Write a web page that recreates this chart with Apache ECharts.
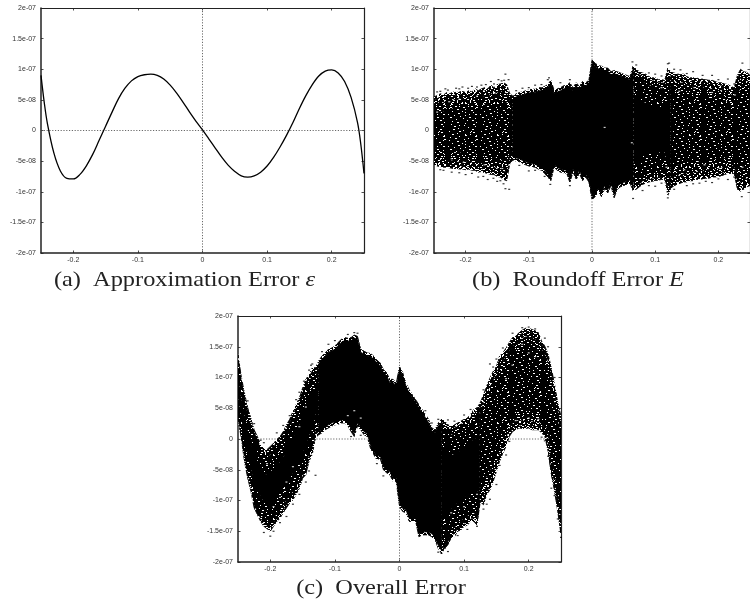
<!DOCTYPE html>
<html><head><meta charset="utf-8">
<style>html,body{margin:0;padding:0;background:#fff;overflow:hidden}#c{width:750px;height:605px;filter:blur(0.3px)}</style>
<script src="https://cdn.jsdelivr.net/npm/echarts@6/dist/echarts.min.js"></script>
</head><body><div id="c"></div>
<script>
// values on the y axis are in units of 1e-8
const xTicks=[-0.2,-0.1,0,0.1,0.2];
const xTickLabels=['-0.2','-0.1','0','0.1','0.2'];
const yTicks=[-20,-15,-10,-5,0,5,10,15,20];
const yTickLabels=['-2e-07','-1.5e-07','-1e-07','-5e-08','0','5e-08','1e-07','1.5e-07','2e-07'];
const captions=['(a)  Approximation Error ','(b)  Roundoff Error ','(c)  Overall Error'];

const approxX=[-0.25,-0.245,-0.24,-0.23,-0.22,-0.21,-0.20,-0.19,-0.18,-0.17,-0.16,-0.15,-0.14,-0.13,-0.12,-0.11,-0.10,-0.09,-0.08,-0.07,-0.06,-0.05,-0.04,-0.03,-0.02,-0.01,0,0.01,0.02,0.03,0.04,0.05,0.06,0.07,0.08,0.09,0.10,0.11,0.12,0.13,0.14,0.15,0.16,0.17,0.18,0.19,0.20,0.21,0.22,0.23,0.24,0.245,0.25];
const approxY=[9.0,4.6,1.1,-3.7,-6.6,-7.8,-7.9,-7.2,-5.8,-3.9,-1.6,0.7,3.0,5.2,6.9,8.1,8.8,9.1,9.2,9.0,8.4,7.4,6.1,4.6,3.0,1.5,0.1,-1.4,-2.9,-4.4,-5.7,-6.7,-7.4,-7.6,-7.4,-6.8,-5.8,-4.4,-2.7,-0.8,1.3,3.6,5.7,7.5,8.9,9.7,9.9,9.4,8.0,5.4,1.3,-2.2,-7];

// envelope columns, every 0.005 from -0.25 to 0.25
const cloudX=[-0.25,-0.245,-0.24,-0.235,-0.23,-0.225,-0.22,-0.215,-0.21,-0.205,-0.2,-0.195,-0.19,-0.185,-0.18,-0.175,-0.17,-0.165,-0.16,-0.155,-0.15,-0.145,-0.14,-0.135,-0.13,-0.125,-0.12,-0.115,-0.11,-0.105,-0.1,-0.095,-0.09,-0.085,-0.08,-0.075,-0.07,-0.065,-0.06,-0.055,-0.05,-0.045,-0.04,-0.035,-0.03,-0.025,-0.02,-0.015,-0.01,-0.005,0,0.005,0.01,0.015,0.02,0.025,0.03,0.035,0.04,0.045,0.05,0.055,0.06,0.065,0.07,0.075,0.08,0.085,0.09,0.095,0.1,0.105,0.11,0.115,0.12,0.125,0.13,0.135,0.14,0.145,0.15,0.155,0.16,0.165,0.17,0.175,0.18,0.185,0.19,0.195,0.2,0.205,0.21,0.215,0.22,0.225,0.23,0.235,0.24,0.245,0.25];
const roundHi=[5.5,5.7,6.0,5.8,6.2,6.0,6.3,6.2,6.3,6.4,6.2,6.5,6.3,6.8,6.5,6.8,7,6.8,7.4,7,7.5,7.6,7.8,7.5,6.0,5.6,6.0,6.2,6.3,6.5,6.6,6.8,6.7,7,7,7.2,7.5,8.2,6.6,6.8,7.0,7.3,7.4,7.8,7,7.8,7.2,8,7.8,8.2,11.5,11,10.6,10.5,10.2,10.2,9.6,9.8,9.6,9.4,9.2,9,8.8,10.5,10,9.6,9.4,9.2,8.8,8.6,8.6,8.3,8.3,8.2,10.2,9.5,9.4,9.2,9.2,9.2,8.8,8.6,8.6,8.6,8.4,8.4,8.3,8.2,8.2,8,7.8,7.8,7.6,7.5,7.2,7,9,10,9.6,9.5,9];
const roundLo=[-5.5,-5.8,-5.9,-6,-6,-6.1,-6.2,-6.2,-6.3,-6.3,-6.4,-6.3,-6.5,-6.5,-6.8,-6.7,-6.9,-7,-7.2,-7.2,-7.5,-7.6,-8,-8.2,-5.4,-4.8,-5.0,-5.1,-5.4,-5.6,-5.8,-5.9,-6,-6.3,-6.5,-7,-7.6,-8.2,-6,-6.5,-6.8,-6.9,-7,-8.5,-6.8,-8,-7,-8.2,-7.6,-8.4,-11.3,-10.8,-10,-10.8,-9.5,-10.2,-9,-11,-9.6,-9.2,-9,-8.8,-8.6,-9.8,-9.6,-9.2,-8.8,-8.6,-8.4,-8.3,-8.2,-8.1,-8,-8,-10.6,-9.4,-9,-8.8,-8.6,-8.4,-8.4,-8.2,-8.2,-8,-8,-7.9,-7.8,-7.8,-7.6,-7.6,-7.5,-7.4,-7.2,-7,-7,-7,-9.6,-9.9,-9.6,-9.2,-9];
const overHi=[13.7,10.2,7.5,5.1,3.4,1.5,.4,-.9,-1.5,-1.7,-1.2,-.7,-.1,.4,1.2,2.3,3.2,4.5,5.6,6.7,8.3,9.7,10.5,11.6,11.6,12.7,13.5,14,14.6,14.8,15.1,15.7,16.2,16.5,16.4,16.5,16.9,16.7,14.6,14.3,14,13.9,13.5,12.9,12.4,11.3,10.8,9.7,9.7,9.1,11.8,10.8,9.1,8,7.2,6.4,5.6,4.8,4,3.2,1.8,1.5,2.6,3.2,2.9,2.3,2.1,2.3,2.6,2.9,3.2,3.4,4,4.8,5.1,5.9,7.2,8.6,9.9,11,11.8,13.5,14,14.8,15.7,16.5,16.7,17.3,17.7,18,18,17.8,17.6,17.3,15.9,15.1,13.8,11.6,8.9,5.9,3.7];
const overLo=[3.2,.2,-3.6,-6.4,-8.5,-11.2,-12.3,-13.4,-14.2,-14.6,-15,-14.2,-13.4,-12.9,-12,-11.2,-10.4,-9.9,-9,-8,-6.4,-5.8,-3.6,-2.5,.2,.7,1,1.5,1.8,2.1,2.3,2.4,2.6,2.6,2.2,1.2,.4,2.1,1.5,.7,.4,-1.5,-2.5,-3.4,-3.1,-5,-5.5,-5.8,-6.9,-6.9,-11,-11.8,-12,-13.4,-13.4,-13.4,-15.9,-15.6,-15.6,-15.6,-15.9,-16.4,-17.8,-18.6,-17.8,-17.2,-16.1,-15.9,-15,-14.8,-14.2,-14,-13.4,-13.4,-14,-10.2,-10.7,-9,-8.3,-6.9,-5.3,-3.6,-2.3,-1.2,.4,1.2,1.5,1.8,1.7,1.7,1.8,1.5,1.5,1.5,1,.4,-2,-5.8,-8.5,-11.8,-15.6];

// stretches of the cloud and how densely inked they read: [from x, to x, density]
const roundStretches=[[-0.25,-0.125,'sparse'],[0.065,0.125,'medium'],[0.125,0.25,'sparse'],[-0.125,0.065,'solid']];
const overStretches=[[-0.25,-0.125,'medium'],[0.065,0.125,'medium'],[0.125,0.25,'sparse'],[-0.125,0.065,'solid']];

// stray dots outside the envelope [x, value]
const roundFringe=[[-0.24,6.4],[-0.232,6.8],[-0.215,6.9],[-0.205,7.1],[-0.19,7.2],[-0.175,7.4],[-0.16,8],[-0.148,8.3],[-0.139,8.2],[-0.137,9.2],[-0.132,8.3],[-0.24,-6.4],[-0.222,-6.8],[-0.2,-7.2],[-0.18,-7.6],[-0.165,-8],[-0.15,-8.3],[-0.14,-8.7],[-0.137,-9.5],[-0.131,-9.6],[-0.11,6.9],[-0.09,7.4],[-0.07,8.3],[-0.068,8.6],[-0.05,7.8],[-0.035,8.3],[-0.066,-8.8],[-0.035,-9],[-0.1,-6.6],[0.064,11.2],[0.07,10.7],[0.1,9.2],[0.122,11],[0.12,10.9],[0.14,9.9],[0.16,9.6],[0.19,9],[0.215,8.4],[0.238,11],[0.12,-11],[0.15,-9],[0.17,-8.6],[0.19,-8.5],[0.215,-8],[0.237,-10.8],[0.065,-11.1],[0.08,-9.8],[0.1,-9.1],[-0.245,6.3],[-0.228,6.6],[-0.21,6.8],[-0.196,6.9],[-0.182,7.1],[-0.168,7.5],[-0.155,7.6],[-0.143,8.1],[-0.235,-6.5],[-0.21,-6.9],[-0.19,-7],[-0.172,-7.5],[-0.156,-7.8],[-0.145,-8.2],[-0.12,6.5],[-0.1,7],[-0.08,7.5],[-0.115,-5.7],[-0.09,-6.5],[-0.075,-7.5],[0.09,9.4],[0.11,8.9],[0.13,10],[0.15,9.3],[0.175,9],[0.2,8.3],[0.225,7.6],[0.09,-9],[0.11,-8.6],[0.13,-9.6],[0.16,-8.7],[0.18,-8.3],[0.2,-7.9],[0.225,-7.6]];
const overFringe=[[-0.135,12.2],[-0.137,12],[-0.14,11.2],[-0.155,7.6],[-0.18,2.2],[-0.19,1],[-0.21,-.6],[-0.225,2.5],[-0.2,-15.8],[-0.21,-15.2],[-0.195,-15],[-0.175,-12.6],[-0.155,-9],[-0.145,-7],[-0.13,-5.9],[-0.14,-5.2],[-0.07,17.3],[-0.065,17.2],[-0.08,17],[-0.1,16],[-0.025,-6],[-0.035,-4],[-0.06,.6],[-0.075,.4],[0.065,-18.6],[0.06,-18.4],[0.075,-18.3],[0.07,-17.8],[0.06,3.2],[0.075,3.1],[0.05,2.6],[0.04,4.6],[0.12,-14.2],[0.135,-10.6],[0.14,-9.8],[0.15,-7.4],[0.165,-2.6],[0.19,18.1],[0.2,18.2],[0.21,17.9],[0.225,16.4],[0.23,15],[0.24,10],[0.22,.3],[0.245,-13],[0.25,-16],[0.235,-8],[0.14,12.2],[0.15,13],[-0.235,6.2],[-0.215,-0.2],[-0.17,3.8],[-0.16,6.4],[-0.148,9.4],[-0.165,-10.6],[-0.185,-13.6],[-0.12,14.2],[-0.11,15.4],[0.085,2.9],[0.1,3.9],[0.11,4.8],[0.13,8],[0.145,11.7],[0.16,14.8],[0.175,17.2],[0.09,-15.7],[0.105,-14.7],[0.13,-11.4],[0.155,-4.3],[0.17,-0.4],[0.225,-0.3],[0.23,-2.8],[0.24,-9.2]];
// pale specks inside the cloud [x, value]
const roundSpecks=[[-0.245,3],[-0.226,4.7],[-0.222,-4.6],[-0.21,5.1],[-0.203,-5.2],[-0.182,5.6],[-0.17,-5.6],[-0.154,6.1],[-0.142,-6.2],[0.11,7],[0.118,-6],[0.138,6.4],[0.146,-6.4],[0.162,7],[0.178,-5.6],[0.19,6.2],[0.202,-6.2],[0.226,5.8],[0.238,-6],[0.02,0.5],[0.063,-2]];
const overSpecks=[[-0.205,-4],[-0.195,-11],[-0.185,-9.5],[-0.175,-7],[-0.165,-4.5],[-0.155,2],[-0.145,5.2],[-0.08,3.8],[-0.07,4.6],[-0.06,3.4],[0.08,-12],[0.1,-11],[0.12,-9],[0.165,9.8],[0.175,12],[0.19,15.4],[0.2,14],[0.21,13.4],[0.18,3],[0.2,3.4],[0.215,3.2]];

// small hand-set speck tiles: # ink, . paper
const tileSparse=[
'###..#####.###########..#####.##',
'#########..####.##.#######..####',
'.#####.#########..#####.########',
'####..#####..#########..###.####',
'###########.####.#####.#####..##',
'##.####..##########..#######.###',
'#######..###.#####.#####.#######',
'..#########..##.#########..###.#',
'#####.##########..###.#.########',
'###..####.###.#########..####..#',
'##########.####..###.##########.',
'#.####..#########.######..###.##',
'####.#######..#######.#######.##',
'#######..##.#####.####..###.####',
'.###.##########..##########..###',
'######..###.#########.###.######',
'##.#########..###..######.###..#',
'##..####.########.#####..#######',
'########..###.####..########.###',
'.####.########.########.###..###',
'###.#####..#######.###..########',
'##########.###..########.###.###',
'#..###.#########.###.#####..####',
'#####..####.###..#########.####.',
'###########..#######.####..#####',
'#.##..########.#####..#.########',
'######.###.#####..#########..###',
'###..########.#######.###.######',
'########..###..##.########..###.',
'.####.#######.######..####.#####',
'####..###.#########.#####.###..#',
'#########..####..#######.#######'];
const tileMedium=[
'##########.#####################',
'#####..#################..######',
'###############.################',
'#.#########..##########.########',
'######################.##..#####',
'#########.######################',
'####..###########.####.#########',
'#################..#########.###',
'###########.###############..###',
'##.#############################',
'#######..###########.###########',
'################.###########..##',
'#.#########################.####',
'#########..######.##############',
'#######################..#######',
'####.#########.#################',
'#################.#######.######',
'##########..####################',
'.####################.#####..###',
'######.##########.##############',
'############.###################',
'##..#################..#########',
'###############.###########.####',
'########.#######################',
'###################.####..######',
'####.###########################',
'#########..#################.###',
'#################.##############',
'###.#####################..#####',
'###########.####.###############',
'######..###################.####',
'####################.###########'];

const panels=[{left:41,top:8,width:323,height:245},{left:434,top:8,width:322,height:245},{left:238,top:316,width:323,height:246}];
const lineCol='#222', labelCol='#333';

// paint one or more tiles (the later ones mirrored) into one pattern
function tile(...sets){
  const rows0=sets[0],w=rows0[0].length,h=rows0.length;
  const cv=document.createElement('canvas');cv.width=w;cv.height=h;
  const g=cv.getContext('2d');g.fillStyle='#000';g.fillRect(0,0,w,h);g.fillStyle='#fff';
  sets.forEach((rows,s)=>{rows.forEach((r,y)=>{for(let x=0;x<w;x++){if(r[x]==='.'){const px=s%2?w-1-x:x,py=s>1?h-1-y:y;g.fillRect(px,py,1,1);}}});});
  return {image:cv,repeat:'repeat'};
}
const rim=tile(tileSparse,tileSparse);
const mid=tile(tileMedium,tileMedium);
const core=tile(tileMedium);
// layers painted from the envelope inwards: [inset in y units, share of half width, fill]
const layers={
  sparse:[[0,0,rim],[0.5,0,tile(tileSparse)],[1.0,0.05,mid],[1.8,0.15,core]],
  medium:[[0,0,rim],[0.5,0,mid],[1.0,0.05,core],[2.5,0.25,'#000']],
  solid:[[0,0,rim],[0.5,0,'#000']]
};

function bandSeries(n,lo,hi,stretches){
  return {type:'custom',xAxisIndex:n,yAxisIndex:n,silent:true,z:2,data:stretches.map(s=>[s[0],s[1]]),clip:true,encode:{x:[0,1]},
    renderItem(p,api){
      const s=stretches[p.dataIndex];
      const children=layers[s[2]].map(l=>{
        const up=[],down=[];
        cloudX.forEach((x,k)=>{if(x>=s[0]-1e-9&&x<=s[1]+1e-9){
          const half=(hi[k]-lo[k])/2,ins=Math.min(half,l[0]+l[1]*half);
          up.push(api.coord([x,hi[k]-ins]));down.unshift(api.coord([x,lo[k]+ins]));}});
        return {type:'polygon',shape:{points:up.concat(down)},style:{fill:l[2],stroke:l[2],lineWidth:0.8}};
      });
      return {type:'group',children};
    }};
}
const grid=panels.map(p=>({left:p.left,top:p.top,width:p.width,height:p.height}));
const xAxis=[],yAxis=[],series=[];
panels.forEach((p,i)=>{
  const n=xAxis.length;
  xAxis.push({type:'value',gridIndex:i,min:-0.25,max:0.25,position:'bottom',splitLine:{show:false},
    axisLine:{show:true,onZero:false,lineStyle:{color:lineCol,width:1.5}},
    axisTick:{show:true,inside:true,length:2.5,customValues:xTicks,lineStyle:{color:lineCol,width:0.8}},
    axisLabel:{show:true,margin:4,fontSize:7,color:labelCol,fontFamily:'Liberation Sans',customValues:xTicks,showMinLabel:true,showMaxLabel:true,
      formatter:v=>xTickLabels[xTicks.indexOf(v)]}});
  xAxis.push({type:'value',gridIndex:i,min:-0.25,max:0.25,position:'top',splitLine:{show:false},
    axisLine:{show:true,onZero:false,lineStyle:{color:lineCol,width:1}},
    axisTick:{show:true,inside:true,length:2.5,customValues:xTicks,lineStyle:{color:lineCol,width:0.8}},
    axisLabel:{show:false}});
  yAxis.push({type:'value',gridIndex:i,min:-20,max:20,interval:5,position:'left',splitLine:{show:false},
    axisLine:{show:true,onZero:false,lineStyle:{color:lineCol,width:1.5}},
    axisTick:{show:true,inside:true,length:2.5,lineStyle:{color:lineCol,width:0.8}},
    axisLabel:{show:true,margin:5,fontSize:7,color:labelCol,fontFamily:'Liberation Sans',formatter:v=>yTickLabels[yTicks.indexOf(v)]}});
  yAxis.push({type:'value',gridIndex:i,min:-20,max:20,interval:5,position:'right',splitLine:{show:false},
    axisLine:{show:true,onZero:false,lineStyle:{color:lineCol,width:1.2}},
    axisTick:{show:true,inside:true,length:2.5,lineStyle:{color:lineCol,width:0.8}},
    axisLabel:{show:false}});
  const zero={type:'line',xAxisIndex:n,yAxisIndex:n,showSymbol:false,silent:true,z:1,lineStyle:{color:'#444',width:0.8,type:[1.2,1.6]}};
  series.push(Object.assign({data:[[-0.25,0],[0.25,0]]},zero));
  series.push(Object.assign({data:[[0,-20],[0,20]]},zero));
  const dots=(data,col,size,z)=>({type:'scatter',xAxisIndex:n,yAxisIndex:n,data,symbol:'rect',symbolSize:size,silent:true,z,itemStyle:{color:col}});
  if(i===0){series.push({type:'line',xAxisIndex:n,yAxisIndex:n,data:approxX.map((x,k)=>[x,approxY[k]]),smooth:0.35,showSymbol:false,silent:true,z:2,lineStyle:{color:'#000',width:1.3}});}
  if(i===1){series.push(bandSeries(n,roundLo,roundHi,roundStretches));series.push(dots(roundSpecks,'#fff',[2,1.2],3));series.push(dots(roundFringe,'#000',[2,1.2],3));}
  if(i===2){series.push(bandSeries(n,overLo,overHi,overStretches));series.push(dots(overSpecks,'#fff',[2,1.2],3));series.push(dots(overFringe,'#000',[2,1.2],3));}
});
const capFont='21px "Liberation Serif"';
const capItal='italic 21px "Liberation Serif"';
const cap=(x,y,text)=>({type:'text',x,y,scaleX:1.16,z:10,silent:true,style:{text,font:capFont,fill:'#222',align:'center',verticalAlign:'middle',rich:{i:{font:capItal,fill:'#222'}}}});
const graphic=[cap(184.5,280,captions[0]+'{i|ε}'),cap(578,280,captions[1]+'{i|E}'),cap(381,588,captions[2])];
const chart=echarts.init(document.getElementById('c'),null,{renderer:'canvas'});
chart.setOption({animation:false,backgroundColor:'#fff',grid,xAxis,yAxis,series,graphic});
</script></body></html>
